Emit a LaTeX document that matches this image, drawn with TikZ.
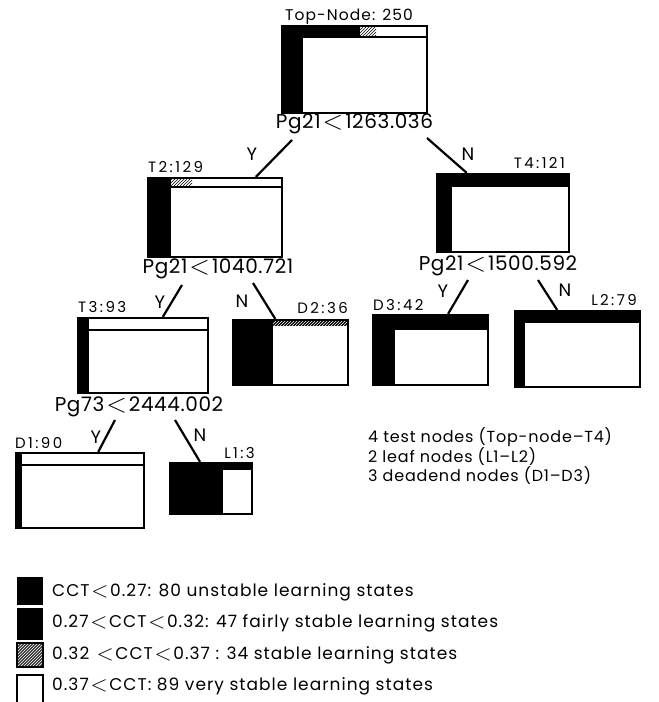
\documentclass[tikz,border=0pt]{standalone}
\usepackage{fontspec}
\usepackage{graphicx}
\setmainfont{Poppins}
\usetikzlibrary{patterns,calc}
\newcommand{\lts}{\hspace{0.1em}\raisebox{-0.05em}{\scalebox{1.3}{$<$}}\hspace{0.1em}}
\begin{document}
\begin{tikzpicture}[x=1pt,y=-1pt,
  box/.style={draw=black, line width=2.2pt, rectangle, inner sep=0pt},
  lbl/.style={font=\fontsize{15}{17}\selectfont\addfontfeatures{LetterSpace=16}, inner sep=0pt},
  toplbl/.style={font=\fontsize{15.5}{17}\selectfont\addfontfeatures{LetterSpace=7}, inner sep=0pt},
  cond/.style={font=\fontsize{20}{22}\selectfont\addfontfeatures{LetterSpace=3}, inner sep=0pt},
  yn/.style={font=\fontsize{18}{20}\selectfont, inner sep=0pt},
  conn/.style={line width=2.2pt},
  info/.style={font=\fontsize{16}{18}\selectfont\addfontfeatures{LetterSpace=5}, inner sep=0pt, anchor=west},
  leg/.style={font=\fontsize{17}{19}\selectfont\addfontfeatures{LetterSpace=6}, inner sep=0pt, anchor=west},
  hatchb/.style={pattern=north east lines, pattern color=black},
  hatchw/.style={pattern=north east lines, pattern color=white},
  sep/.style={line width=1.8pt},
]
\useasboundingbox (0,0) rectangle (659,702);

% ---------- Top node ----------
\fill (282,26) rectangle (303,113);
\fill (282,26) rectangle (360,37);
\fill[hatchb] (360,26) rectangle (376,37);
\draw[sep] (303,37) -- (427,37);
\node[box, minimum width=145pt, minimum height=87pt] (top) at (354.5,69.5) {};
\node[toplbl, anchor=west] (ltop) at (285,17) {Top-Node: 250};
\node[cond] (c1) at (354.5,124) {Pg21\lts1263.036};

% ---------- T2 ----------
\fill (148,178) rectangle (171,257);
\fill (148,178) rectangle (160,187);
\fill[hatchb] (160,178) rectangle (192,187);
\draw[sep] (171,187) -- (282,187);
\node[box, minimum width=134pt, minimum height=79pt] (t2) at (215,217.5) {};
\node[lbl, anchor=west] (lt2) at (148,167) {T2:129};
\node[cond] (c2) at (218,269) {Pg21\lts1040.721};

% ---------- T4 ----------
\fill (437,174) rectangle (452,252);
\fill (437,174) rectangle (569,187);
\node[box, minimum width=132pt, minimum height=78pt] (t4) at (503,213) {};
\node[lbl, anchor=east] (lt4) at (565,163) {T4:121};
\node[cond] (c3) at (498,266) {Pg21\lts1500.592};

% ---------- T3 ----------
\fill (78,318) rectangle (89,393);
\draw[sep] (78,330) -- (208,330);
\node[box, minimum width=130pt, minimum height=75pt] (t3) at (143,355.5) {};
\node[lbl, anchor=west] (lt3) at (78,307) {T3:93};
\node[cond] (c4) at (139,407) {Pg73\lts2444.002};

% ---------- D2 ----------
\fill (233,320) rectangle (273,385);
\fill (273,320) rectangle (348,326);
\fill[hatchw] (273,320) rectangle (348,326);
\node[box, minimum width=115pt, minimum height=65pt] (d2) at (290.5,352.5) {};
\node[lbl, anchor=east] (ld2) at (348,308) {D2:36};

% ---------- D3 ----------
\fill (373,315) rectangle (395,385);
\fill (373,315) rectangle (488,330);
\node[box, minimum width=115pt, minimum height=70pt] (d3) at (430.5,350) {};
\node[lbl, anchor=west] (ld3) at (373,305) {D3:42};

% ---------- L2 ----------
\fill (515,311) rectangle (525,387);
\fill (515,311) rectangle (640,323);
\node[box, minimum width=125pt, minimum height=76pt] (l2) at (577.5,349) {};
\node[lbl, anchor=east] (ll2) at (637,300) {L2:79};

% ---------- D1 ----------
\fill (16,453) rectangle (22,528);
\draw[sep] (16,465) -- (144,465);
\node[box, minimum width=128pt, minimum height=75pt] (d1) at (80,490.5) {};
\node[lbl, anchor=west] (ld1) at (15,443) {D1:90};

% ---------- L1 ----------
\fill (170,463) rectangle (223,514);
\fill (170,463) rectangle (252,470);
\node[box, minimum width=82pt, minimum height=51pt] (l1) at (211,488.5) {};
\node[lbl, anchor=east] (ll1) at (255,453) {L1:3};

% ---------- connectors ----------
\coordinate (s1) at (292,140);
\coordinate (s2) at (427,138);
\coordinate (s3) at (182,285);
\coordinate (s4) at (253,283);
\coordinate (s5) at (468,280);
\coordinate (s6) at (538,280);
\coordinate (s7) at (115,420);
\coordinate (s8) at (175,420);
\draw[conn] (s1) -- ($(t2.north west)!0.80!(t2.north east)$);
\draw[conn] (s2) -- ($(t4.north west)!0.23!(t4.north east)$);
\draw[conn] (s3) -- ($(t3.north west)!0.65!(t3.north east)$);
\draw[conn] (s4) -- ($(d2.north west)!0.37!(d2.north east)$);
\draw[conn] (s5) -- ($(d3.north west)!0.65!(d3.north east)$);
\draw[conn] (s6) -- ($(l2.north west)!0.34!(l2.north east)$);
\draw[conn] (s7) -- ($(d1.north west)!0.64!(d1.north east)$);
\draw[conn] (s8) -- ($(l1.north west)!0.37!(l1.north east)$);

\node[yn] (y1) at (252,154) {Y};
\node[yn] (n1) at (468,154) {N};
\node[yn] (y2) at (160,302) {Y};
\node[yn] (n2) at (242,301) {N};
\node[yn] (y3) at (443,291) {Y};
\node[yn] (n3) at (565,290) {N};
\node[yn] (y4) at (96,437) {Y};
\node[yn] (n4) at (200,435) {N};

% ---------- summary ----------
\node[info] (i1) at (368,437) {4 test nodes (Top-node–T4)};
\node[info] (i2) at (368,457) {2 leaf nodes (L1–L2)};
\node[info] (i3) at (368,476) {3 deadend nodes (D1–D3)};

% ---------- legend ----------
\fill (17,577) rectangle (43,605);
\fill (17,608) rectangle (43,640);
\fill[black!80] (17,643) rectangle (43,667);
\fill[hatchw] (17,643) rectangle (43,667);
\draw[line width=1.5pt] (17,643) rectangle (43,667);
\draw[line width=2pt] (17,702) -- (17,675) -- (43,675) -- (43,702);
\node[leg] (g1) at (52,592) {CCT\lts0.27: 80 unstable learning states};
\node[leg] (g2) at (52,623) {0.27\lts CCT\lts0.32: 47 fairly stable learning states};
\node[leg] (g3) at (52,655) {0.32 \lts CCT\lts0.37 : 34 stable learning states};
\node[leg] (g4) at (52,686) {0.37\lts CCT: 89 very stable learning states};
\end{tikzpicture}
\end{document}
